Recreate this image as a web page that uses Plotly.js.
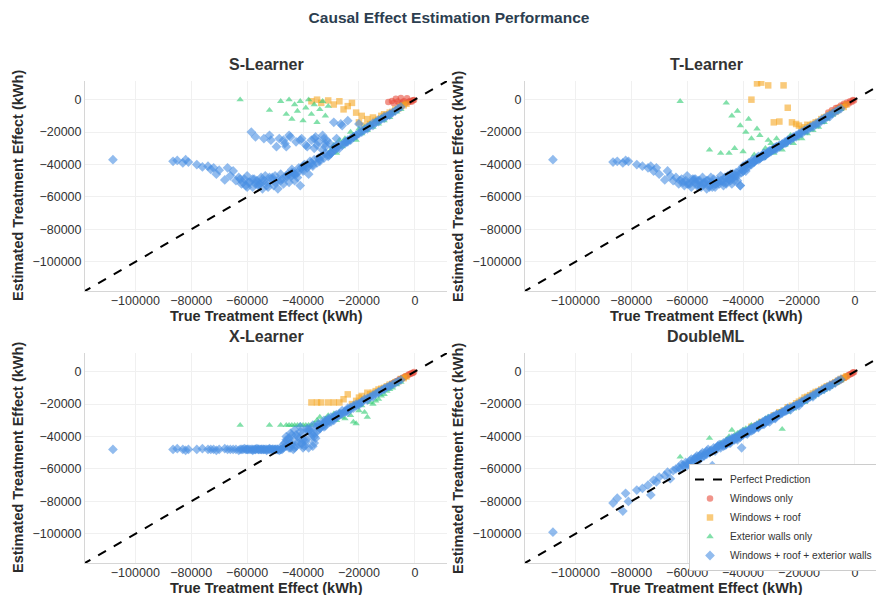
<!DOCTYPE html>
<html>
<head>
<meta charset="utf-8">
<script src="https://cdn.plot.ly/plotly-3.0.1.min.js"></script>
<style>
html,body{margin:0;padding:0;overflow:hidden;background:#fff;}
#chart{width:890px;height:595px;}
</style>
</head>
<body>
<div id="chart"></div>
<script>
// ---------- DATA ----------
const modelNames = ['S-Learner', 'T-Learner', 'X-Learner', 'DoubleML'];
const seriesNames = ['Windows only', 'Windows + roof', 'Exterior walls only', 'Windows + roof + exterior walls'];
const tickVals = [-100000, -80000, -60000, -40000, -20000, 0];
const tickText = ['\u2212100000', '\u221280000', '\u221260000', '\u221240000', '\u221220000', '0'];
const axisRange = [-118000, 11500];
const perfectLine = [-130000, 20000];

// True treatment effects (kWh), shared by all four models
const trueRed = [-9500,-8200,-7600,-6800,-6100,-5500,-5000,-4400,-3900,-3300,-2800,-2200,-1700,-1200,-700,-300];
const trueOrange = [-37000,-35000,-33500,-31000,-29000,-27000,-25500,-24000,-22500,-21000,
  -20000,-19000,-18000,-17000,-16000,-15000,-14000,-13000,-12000,-11000,
  -10000,-9000,-8000,-7000,-6000,-5000,-4000,-3000];
const trueGreen = [-62500,-52000,-48000,-46000,-45000,-44000,-43000,-42000,-41000,-40000,
  -39000,-38000,-37000,-36000,-35000,-34000,-33000,-32000,-31000,-30000,
  -29000,-28000,-27000,-26000,-25000,-24000,-23000,-22000,-21000,-20000,
  -19000,-18000,-17000,-16000,-15000,-14000,-13000,-12000,-11000,-10000,
  -9000,-8000,-6500,-5000];
const trueBlue = [-108000,-86500,-85000,-83000,-82000,-81000,-78000,-76000,-74000,-73000,
  -72000,-71000,-70000,-68000,-67000,-66000,-65000,-64000,-63000,-62000,
  -61000,-60500,-60000,-59000,-58500,-58000,-57000,-56500,-56000,-55000,
  -54500,-54000,-53000,-52500,-52000,-51000,-50500,-50000,-49000,-48500,
  -48000,-47000,-46500,-46000,-45000,-44500,-44000,-43000,-42500,-42000,
  -41000,-40500,-40000,-39000,-38500,-38000,-37000,-36500,-36000,-35000,
  -34500,-34000,-33000,-32500,-32000,-31000,-30500,-30000,-29000,-28500,
  -28000,-27000,-26000,-25000,-24000,-23000,-22000,-21000,-20000,-19000,
  -18000,-17000,-16000,-15000,-14000,-13000,-12000,-11000,-10000,-9000,
  -8000,-7000,-6000,-5000,-47500,-45500,-43500,-41500,-39500,-37500,
  -35500,-33500,-31500,-29500,-53500,-55500,-57500,-49500,-51500,-44000,
  -40000,-36000,-32000,-28000,-24000,-20000,
  -59500,-58000,-56000,-54000,-52000,-50000,-48000,-46000,-44000,-42000,
  -40000,-38000,-36000,-34000,-32000,-30000,-28000,-26000,-24000,-22000,
  -47000,-45000,-43000,-41000,-39000,-37000,-35000,-33000,-31000,-29000,
  -27000,-25000,-23000,-21000,-19000,-17000,-15000,-13000,-11000,-9000,
  -62500,-61500,-60000,-57000,-55000,-53000,-51000,-49000,-46000,-44500,
  -42500,-40500,-38500,-36500,-34500,-32500,-30500,-28500,-26500,-24500];

// S-Learner estimates
const sRed = [-1500,-800,-2000,500,-1200,-2500,1000,-1800,-1000,-2200,800,-1500,-900,-1300,-400,-200];
const sOrange = [-1000,0,-2000,-500,-3000,-1000,-6000,-4000,-2000,-8000,
  -14000,-10000,-16000,-12000,-15000,-11000,-13000,-12000,-10000,-9000,
  -9500,-8000,-7500,-6000,-5500,-4000,-3500,-2500];
const sGreen = [0,-6500,-1000,-9000,0,-12000,-3000,-7000,-1000,-13000,
  -5000,0,-9000,-3000,-14000,-6000,-1000,-10000,-4000,-31000,
  -28000,-33000,-25000,-29000,-24000,-26000,-20000,-22000,-25000,-18000,
  -21000,-17000,-19000,-15000,-17000,-13000,-15000,-11000,-13000,-10500,
  -11000,-8500,-7500,-6000];
const sBlue = [-37000,-38000,-37500,-39000,-37000,-38500,-40000,-41500,-41000,-43000,
  -42000,-46000,-43500,-49500,-42000,-47000,-44000,-50000,-48000,-52000,
  -49000,-53000,-47000,-51000,-20000,-54000,-23000,-50000,-53000,-48000,
  -55000,-24000,-51000,-54000,-22000,-49000,-53000,-47000,-55000,-24000,
  -50000,-52000,-27000,-48000,-51000,-23000,-47000,-50000,-26000,-45000,
  -53000,-24000,-44000,-28000,-42000,-46000,-25000,-40000,-30000,-39000,
  -26000,-38000,-22000,-36000,-29000,-35000,-27000,-33000,-14000,-31000,
  -24000,-30000,-16000,-27000,-13000,-25000,-23000,-22000,-21000,-19000,
  -18500,-17000,-16000,-14500,-14000,-12500,-12000,-10500,-10000,-9000,
  -8000,-7000,-5500,-4500,-49000,-46000,-45000,-42000,-40000,-38000,
  -23000,-35000,-25000,-32000,-47000,-52000,-49000,-29000,-25000,-43000,
  -41000,-37000,-33000,-28500,-25000,-15000,
  -51000,-49000,-52000,-50000,-48000,-51000,-46000,-47000,-45000,-48000,
  -43000,-41000,-24000,-37000,-27000,-33000,-30000,-28000,-26000,-23000,
  -25000,-22000,-46000,-25000,-41000,-39000,-28000,-31000,-34000,-30000,
  -28000,-26000,-24000,-22000,-20000,-18000,-16000,-13500,-11500,-9500,
  -49000,-51000,-54000,-52000,-50000,-53000,-48000,-50000,-29000,-47000,
  -46000,-42000,-29000,-41000,-36000,-24000,-34000,-29000,-15000,-26000];

// T-Learner estimates
const tRed = [-8000,-6500,-7800,-5200,-5000,-4800,-3600,-3900,-2500,-3100,-1800,-2400,-1000,-1500,-200,-600];
const tOrange = [0,10000,10500,8800,-14000,-13500,8800,-5000,-14000,-15000,
  -16000,-18000,-17000,-15500,-16000,-15000,-14000,-13500,-12000,-11000,
  -10500,-9000,-8000,-7500,-6000,-5000,-4500,-3000];
const tGreen = [-1000,-31000,-33000,-2000,-33000,-10000,-30000,-7000,-16000,-32000,
  -20000,-12000,-24000,-34000,-18000,-22000,-36000,-30000,-25000,-27000,
  -33000,-24000,-29000,-31000,-28000,-26000,-22000,-27000,-24000,-22000,
  -24000,-20000,-21000,-18000,-19000,-16000,-17000,-14000,-14000,-12000,
  -10000,-9500,-7500,-6000];
const tBlue = [-37000,-38500,-38000,-39000,-37500,-38000,-40000,-41000,-42000,-41000,
  -44000,-42000,-46000,-49500,-44000,-47000,-50000,-48000,-52000,-49000,
  -53000,-50000,-47000,-52000,-54000,-49000,-51000,-53000,-50000,-54000,
  -48000,-52000,-55000,-50000,-53000,-51000,-49000,-54000,-50000,-52000,
  -47000,-53000,-48000,-51000,-49000,-46000,-52000,-47000,-45000,-50000,
  -53000,-43000,-41000,-40000,-42000,-39000,-38000,-37000,-38500,-36000,
  -35000,-36500,-34000,-33000,-34500,-32000,-31500,-32000,-30000,-29500,
  -30500,-28000,-27500,-26000,-25500,-24000,-23000,-22000,-21000,-20000,
  -19000,-18000,-17000,-16000,-15000,-14000,-12500,-11500,-10500,-9500,
  -8500,-7500,-6500,-5500,-50000,-47000,-46000,-44000,-41500,-39500,
  -37500,-35500,-33500,-31000,-51000,-50000,-49000,-52000,-48000,-48000,
  -44000,-38000,-34000,-29000,-25000,-21500,
  -52000,-50000,-53000,-51000,-54000,-52000,-50000,-52000,-49000,-47000,
  -44000,-41000,-38000,-36000,-34000,-31500,-29500,-27500,-25500,-23500,
  -51000,-49000,-50000,-53000,-44000,-40000,-37000,-35000,-33000,-31000,
  -29000,-27000,-25000,-23000,-21000,-19000,-17000,-15000,-12500,-10500,
  -50000,-51000,-52000,-49000,-53000,-50000,-54000,-51000,-48000,-50000,
  -47000,-45000,-40000,-39000,-37000,-35000,-32500,-30500,-28500,-26500];

// X-Learner estimates
const xlRed = [-9000,-7500,-7000,-6000,-5800,-4700,-4600,-3900,-3500,-2800,-2600,-1800,-1500,-1000,-800,-200];
const xlOrange = [-19000,-19000,-19000,-19000,-19000,-19000,-17000,-14000,-20000,-18000,
  -16000,-15000,-17000,-13000,-14000,-13000,-12000,-11000,-10500,-10000,
  -9000,-8000,-7500,-6500,-6000,-4500,-4000,-3000];
const xlGreen = [-33000,-33000,-33000,-33000,-33000,-33000,-33000,-33000,-33000,-33000,
  -33000,-33000,-33000,-32000,-30000,-28000,-32000,-29000,-27000,-29000,
  -26000,-30000,-25000,-28000,-29000,-23000,-27000,-31000,-32000,-24000,
  -21000,-25000,-28000,-19000,-20000,-18000,-17000,-15000,-14000,-12000,
  -11000,-10000,-8000,-6500];
const xlBlue = [-48000,-48000,-47500,-48000,-48500,-48000,-48000,-47500,-48000,-48000,
  -48000,-48500,-48000,-47500,-48000,-48000,-48000,-48000,-48500,-48000,
  -47500,-48000,-48000,-48000,-48000,-48500,-48000,-47500,-48000,-48000,
  -48000,-48000,-48500,-48000,-47500,-48000,-48000,-48000,-48000,-48500,
  -48000,-47000,-44000,-40000,-47000,-38000,-43000,-36000,-46000,-40000,
  -34000,-45000,-38000,-42000,-35000,-47000,-40000,-33000,-44000,-37000,
  -32000,-35000,-33000,-30000,-32000,-29000,-31000,-28000,-28500,-27000,
  -26500,-26000,-24000,-24500,-22500,-22000,-21000,-20000,-19500,-18500,
  -17000,-16500,-15500,-14500,-13500,-12500,-11500,-10500,-9500,-9000,
  -8000,-7000,-6000,-5000,-48000,-42000,-48000,-41000,-46000,-36000,
  -41000,-34000,-30500,-29000,-48000,-48000,-48000,-48000,-48000,-45000,
  -42000,-38000,-33500,-27500,-23500,-20500,
  -48000,-48000,-48000,-48000,-48000,-48000,-48000,-46000,-39000,-44000,
  -47000,-36000,-40000,-35000,-31000,-31000,-28000,-26000,-25000,-22500,
  -45000,-41000,-47000,-37000,-43000,-38000,-34000,-32000,-30000,-30000,
  -27000,-25000,-23000,-21000,-19000,-17500,-15500,-13000,-11000,-9000,
  -48000,-48000,-48000,-48000,-48000,-48000,-48000,-48000,-42000,-47000,
  -39000,-44000,-36000,-46000,-33000,-34000,-30000,-28000,-26000,-24000];

// DoubleML estimates
const dmlRed = [-9200,-7600,-7400,-6500,-6000,-5200,-5100,-4300,-3700,-3400,-2700,-2100,-1600,-1300,-600,-400];
const dmlOrange = [-34000,-33000,-31000,-29500,-27000,-25000,-24000,-22000,-21000,-19500,
  -18500,-17500,-16000,-15500,-14500,-13500,-12500,-12000,-11000,-10000,
  -9000,-8500,-7500,-6500,-5500,-4500,-3800,-2800];
const dmlGreen = [-52600,-41000,-44000,-42000,-40000,-36000,-39000,-38000,-37000,-36000,
  -35000,-35500,-33000,-34000,-32000,-31000,-32000,-29000,-28000,-29000,
  -27000,-27500,-25000,-35500,-24000,-25000,-22000,-23000,-21000,-20500,
  -19000,-19000,-17000,-16500,-15500,-14500,-13000,-12500,-11500,-10500,
  -9500,-8500,-7000,-5500];
const dmlBlue = [-99000,-81000,-78000,-86000,-75000,-80000,-73000,-72000,-70000,-76000,
  -67000,-68000,-65000,-64000,-62000,-66000,-61000,-60000,-59000,-57000,
  -58000,-56000,-58000,-55000,-54000,-56000,-53000,-52000,-55000,-51000,
  -50000,-52000,-49000,-48000,-50000,-58000,-47000,-49000,-46000,-45000,
  -47000,-44000,-45500,-43000,-42000,-44000,-41000,-41500,-40000,-42000,
  -39000,-47000,-38000,-37000,-38500,-36000,-35000,-36000,-34000,-33000,
  -34500,-32000,-31000,-32500,-30000,-29000,-31000,-28500,-27500,-29000,
  -26500,-26000,-25000,-24500,-23000,-23500,-21500,-21000,-19500,-19000,
  -17500,-17000,-15500,-15500,-13500,-13000,-11500,-11000,-9500,-9200,
  -7800,-7000,-5500,-4800,-45000,-43000,-41000,-39000,-37500,-35500,
  -34000,-32000,-30500,-28000,-50500,-52000,-54000,-47000,-48500,-42500,
  -37000,-34500,-30000,-26500,-22500,-21000,
  -57000,-56000,-53000,-52000,-50000,-48000,-46000,-44500,-42000,-41000,
  -39000,-37000,-35500,-33000,-31500,-29500,-27500,-25500,-23500,-21500,
  -46000,-44000,-42000,-40500,-38000,-36500,-34000,-32500,-30500,-28500,
  -26500,-24000,-22500,-20500,-18500,-16500,-14500,-12500,-10500,-8500,
  -60000,-58000,-57000,-54000,-53000,-51000,-49000,-46000,-45000,-43000,
  -41000,-39500,-37500,-35000,-34000,-31500,-29000,-28500,-26000,-24000];

// ---------- STYLE / LAYOUT ----------
const W = 890, H = 595;
const FONT = 'Liberation Sans, Arial, Helvetica, sans-serif';
const colors = ['#e74c3c', '#f5a623', '#2ecc71', '#4a90e2'];
const symbols = ['circle', 'square', 'triangle-up', 'diamond'];
const sizes = [6.5, 6.5, 6.5, 7.5];
const trueX = [trueRed, trueOrange, trueGreen, trueBlue];
const estimates = [
  [sRed, sOrange, sGreen, sBlue],
  [tRed, tOrange, tGreen, tBlue],
  [xlRed, xlOrange, xlGreen, xlBlue],
  [dmlRed, dmlOrange, dmlGreen, dmlBlue]
];
// pixel boxes of the plot areas [left, right] and [top, bottom]
const colPx = [[85, 447], [525, 887]];
const rowPx = [[81, 291], [353, 563]];

const px = v => v / W;
const py = v => 1 - v / H;

const traces = [];
const layout = {
  width: W, height: H,
  margin: {l: 0, r: 0, t: 0, b: 0},
  paper_bgcolor: '#ffffff',
  plot_bgcolor: '#ffffff',
  font: {family: FONT, color: '#333333'},
  title: {
    text: '<b>Causal Effect Estimation Performance</b>',
    font: {family: FONT, size: 15.5, color: '#2c3e50'},
    x: px(449), xref: 'paper', xanchor: 'center',
    y: py(18), yref: 'paper', yanchor: 'middle'
  },
  showlegend: true,
  legend: {
    x: px(689), y: py(464), xanchor: 'left', yanchor: 'top',
    bgcolor: '#ffffff', bordercolor: '#cccccc', borderwidth: 1,
    font: {family: FONT, size: 10.2, color: '#333333'},
    itemwidth: 30, tracegroupgap: 0
  },
  annotations: []
};

modelNames.forEach((name, m) => {
  const n = m === 0 ? '' : String(m + 1);
  const col = m % 2, row = Math.floor(m / 2);
  const xName = 'xaxis' + n, yName = 'yaxis' + n;
  const [l, r] = colPx[col];
  const [t, b] = rowPx[row];
  const common = {
    range: axisRange, tickvals: tickVals, ticktext: tickText,
    showgrid: true, gridcolor: '#f0f0f0', gridwidth: 1,
    zeroline: false, showline: true, linecolor: '#d6d6d6', linewidth: 1,
    ticks: '', tickfont: {family: FONT, size: 12.5, color: '#333333'},
    fixedrange: true
  };
  layout[xName] = Object.assign({}, common, {domain: [px(l), px(r)], anchor: 'y' + n, ticklabelstandoff: -2});
  layout[yName] = Object.assign({}, common, {domain: [py(b), py(t)], anchor: 'x' + n});

  seriesNames.forEach((s, k) => {
    traces.push({
      type: 'scatter', mode: 'markers',
      x: trueX[k], y: estimates[m][k],
      xaxis: 'x' + n, yaxis: 'y' + n,
      name: s, legendgroup: s, legendrank: k + 2,
      showlegend: m === 3,
      marker: {color: colors[k], symbol: symbols[k], size: sizes[k], opacity: 0.6, line: {width: 0}},
      hoverinfo: 'x+y+name'
    });
  });
  traces.push({
    type: 'scatter', mode: 'lines',
    x: perfectLine, y: perfectLine,
    xaxis: 'x' + n, yaxis: 'y' + n,
    name: 'Perfect Prediction', legendgroup: 'perfect', legendrank: 1,
    showlegend: m === 3,
    line: {color: '#000000', width: 2, dash: 'dash'},
    hoverinfo: 'skip'
  });

  const cx = (l + r) / 2, cy = (t + b) / 2;
  // subplot title
  layout.annotations.push({
    text: '<b>' + name + '</b>', xref: 'paper', yref: 'paper',
    x: px(cx), y: py(t - 17), xanchor: 'center', yanchor: 'middle', showarrow: false,
    font: {family: FONT, size: 16, color: '#333333'}
  });
  // x axis title
  layout.annotations.push({
    text: '<b>True Treatment Effect (kWh)</b>', xref: 'paper', yref: 'paper',
    x: px(cx), y: py(b + 25), xanchor: 'center', yanchor: 'middle', showarrow: false,
    font: {family: FONT, size: 14.5, color: '#2b2b2b'}
  });
  // y axis title
  layout.annotations.push({
    text: '<b>Estimated Treatment Effect (kWh)</b>', xref: 'paper', yref: 'paper',
    x: px(l - 67), y: py(cy), xanchor: 'center', yanchor: 'middle', showarrow: false,
    textangle: -90,
    font: {family: FONT, size: 14.5, color: '#2b2b2b'}
  });
});

Plotly.newPlot('chart', traces, layout, {displayModeBar: false, staticPlot: true});
</script>
</body>
</html>
